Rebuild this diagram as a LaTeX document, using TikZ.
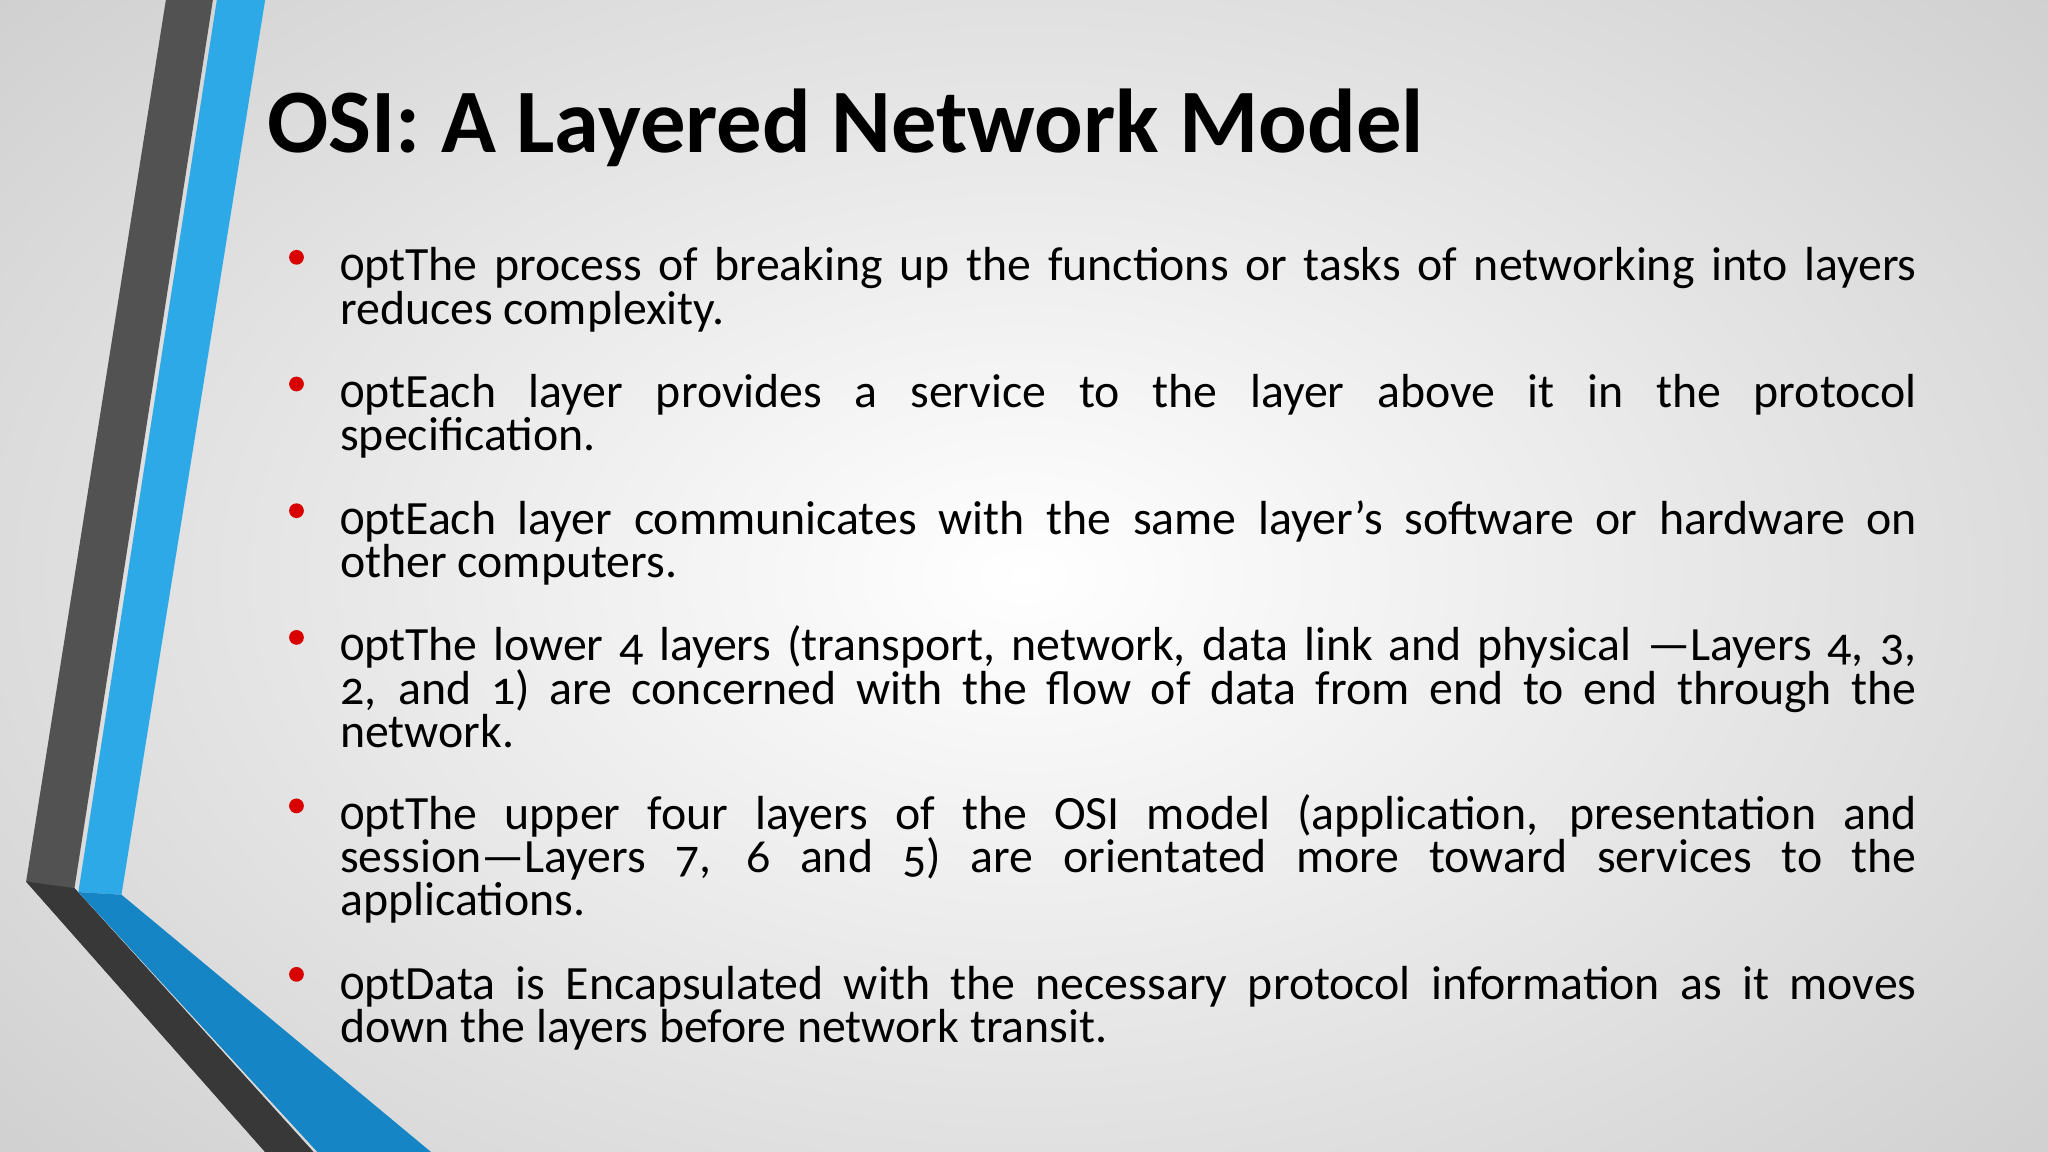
\documentclass[tikz,border=0pt]{standalone}
\usepackage{fontspec}
\setmainfont[Numbers=OldStyle]{Carlito}
\definecolor{slblue}{HTML}{2EA9E8}
\definecolor{slblue2}{HTML}{1585C6}
\begin{document}
\begin{tikzpicture}[x=0.013061cm,y=-0.013061cm,
  bul/.style={anchor=base west,inner sep=0pt,text width=1207*0.013061cm,align=justify,font=\fontsize{13.6}{12.3}\selectfont\hyphenpenalty=10000\exhyphenpenalty=10000},
  dot/.style={circle,fill=red!85!black,inner sep=0pt,minimum size=4.2pt}]
\useasboundingbox (0,0) rectangle (1568,882);
\shade[inner color=white,outer color=gray!38] (-300,-250) rectangle (1868,1132);
\clip (0,0) rectangle (1568,882);
% gray band
\fill[black!68] (127,0) -- (163,0) -- (57,680) -- (240,882) -- (203,882) -- (20,675) -- cycle;
\fill[black!78] (20,675) -- (57,680) -- (240,882) -- (203,882) -- cycle;
% blue band
\fill[slblue] (166,0) -- (203,0) -- (93,685) -- (60,683) -- cycle;
\fill[slblue2] (60,683) -- (93,685) -- (330,882) -- (243,882) -- cycle;
\node[anchor=base west,inner sep=0pt,font=\fontsize{25.8}{30}\selectfont\bfseries] (title) at (204,117) {OSI: A Layered Network Model};
\node[bul] (b1) at (260,215) {The process of breaking up the functions or tasks of networking into layers\linebreak reduces complexity.};
\node[bul] (b2) at (260,312) {Each layer provides a service to the layer above it in the protocol\linebreak specification.};
\node[bul] (b3) at (260,409) {Each layer communicates with the same layer’s software or hardware on\linebreak other computers.};
\node[bul] (b4) at (260,506) {The lower 4 layers (transport, network, data link and physical —Layers 4, 3,\linebreak 2, and 1) are concerned with the flow of data from end to end through the\linebreak network.};
\node[bul] (b5) at (260,635) {The upper four layers of the OSI model (application, presentation and\linebreak session—Layers 7, 6 and 5) are orientated more toward services to the\linebreak applications.};
\node[bul] (b6) at (260,765) {Data is Encapsulated with the necessary protocol information as it moves\linebreak down the layers before network transit.};
\foreach \y/\n in {197/d1,294/d2,391/d3,488/d4,617/d5,746/d6} \node[dot] (\n) at (227,\y) {};
\end{tikzpicture}
\end{document}
